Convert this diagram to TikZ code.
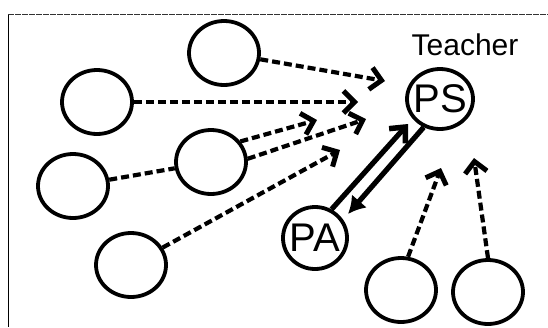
\documentclass[tikz,border=0pt]{standalone}
\usepackage{fontspec}
\setmainfont{Liberation Sans}
\usetikzlibrary{arrows.meta,shapes.geometric}
\begin{document}
\begin{tikzpicture}[x=1pt,y=-1pt,
  ring/.style={draw, ellipse, line width=3.8pt, minimum width=70pt, minimum height=64pt, inner sep=0pt},
  dasharrow/.style={line width=4.2pt, dash pattern=on 8pt off 4pt, -{Straight Barb[length=11pt,width=22pt,line width=5pt]}},
  dashline/.style={line width=4.2pt, dash pattern=on 8pt off 4pt},
  solidarrow/.style={line width=5.2pt, -{Straight Barb[length=12pt,width=22pt,line width=5.5pt]}},
  solidarrowb/.style={line width=5.2pt, -{Latex[length=17pt,width=20pt]}},
  bigtext/.style={font=\fontsize{40}{40}\selectfont}
]
\useasboundingbox (0,0) rectangle (548,327);
\draw[line width=1pt] (8,14) -- (8,327);
\draw[line width=1pt, dash pattern=on 6pt off 1pt, black!80] (8,14) -- (548,14);

\node[ring] (A) at (224,53) {};
\node[ring] (B) at (97,102) {};
\node[ring] (C) at (73,186) {};
\node[ring] (D) at (211,162) {};
\node[ring] (E) at (131,265) {};
\node[ring, minimum width=66pt, minimum height=60pt] (PS) at (440,99) {};
\node[bigtext] at (PS) {PS};
\node[ring, minimum width=64pt, minimum height=62pt] (PA) at (315,238) {};
\node[bigtext] at (PA) {PA};
\node[ring] (F) at (401,290) {};
\node[ring] (G) at (488,292) {};
\node[font=\fontsize{30}{30}\selectfont, anchor=base] (T) at (465,55) {Teacher};

\coordinate (t1) at (385,81);
\coordinate (t2) at (358,102);
\coordinate (t3) at (317,120);
\coordinate (t4) at (366,119);
\coordinate (t5) at (340,150);
\coordinate (t7) at (408,124);
\coordinate (t8) at (348,214);
\coordinate (t9) at (441,168);
\coordinate (t10) at (474,158);

\draw[dasharrow] (A) -- (t1);
\draw[dasharrow] (B) -- (t2);
\draw[dasharrow] (D.35) -- (t3);
\draw[dasharrow] (D.5) -- (t4);
\draw[dashline] (C) -- (D);
\draw[dasharrow] (E) -- (t5);
\draw[solidarrow] (PA.60) -- (t7);
\draw[solidarrowb] (PS.240) -- (t8);
\draw[dasharrow] (F.78) -- (t9);
\draw[dasharrow] (G.north) -- (t10);
\end{tikzpicture}
\end{document}
